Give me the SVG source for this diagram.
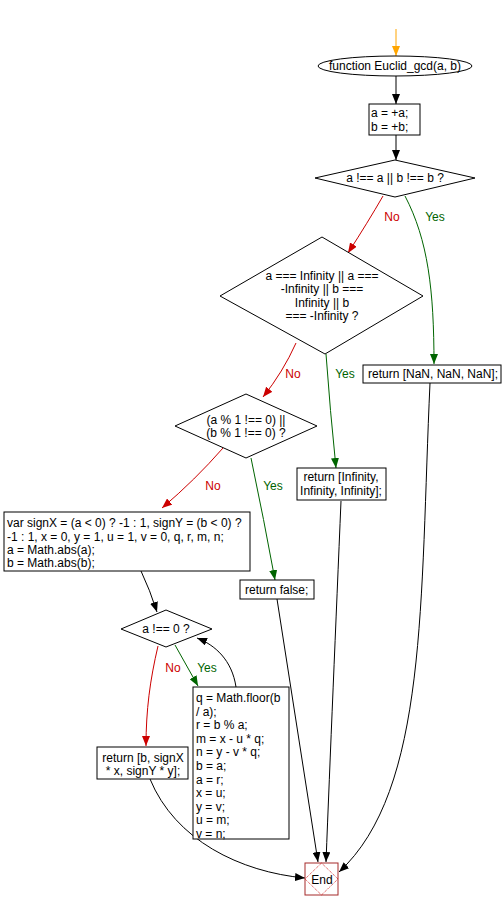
<svg xmlns="http://www.w3.org/2000/svg" width="504" height="910" viewBox="0 0 504 910">
<style>
text{font-family:"Liberation Sans",Arial,sans-serif;font-size:12px;fill:#000}
.c{text-anchor:middle}
.shape{fill:#fff;stroke:#000;stroke-width:1}
.k{fill:none;stroke:#000;stroke-width:1}
.g{fill:none;stroke:#006400;stroke-width:1}
.r{fill:none;stroke:#cc0000;stroke-width:1}
.o{fill:none;stroke:#ffa500;stroke-width:1}
.ln{fill:#cc0000}
.ly{fill:#006400}
</style>
<defs>
<marker id="ak" viewBox="0 0 10 8" refX="10" refY="4" markerWidth="10" markerHeight="8" markerUnits="userSpaceOnUse" orient="auto"><path d="M0,0 L10,4 L0,8 z" fill="#000"/></marker>
<marker id="ag" viewBox="0 0 10 8" refX="10" refY="4" markerWidth="10" markerHeight="8" markerUnits="userSpaceOnUse" orient="auto"><path d="M0,0 L10,4 L0,8 z" fill="#006400"/></marker>
<marker id="ar" viewBox="0 0 10 8" refX="10" refY="4" markerWidth="10" markerHeight="8" markerUnits="userSpaceOnUse" orient="auto"><path d="M0,0 L10,4 L0,8 z" fill="#cc0000"/></marker>
<marker id="ao" viewBox="0 0 10 8" refX="10" refY="4" markerWidth="10" markerHeight="8" markerUnits="userSpaceOnUse" orient="auto"><path d="M0,0 L10,4 L0,8 z" fill="#ffa500"/></marker>
</defs>
<g id="connectors">
<path class="o" d="M396,29 L396,56" marker-end="url(#ao)"/>
<path class="k" d="M396,76 L396,104" marker-end="url(#ak)"/>
<path class="k" d="M396,135 L396,160" marker-end="url(#ak)"/>
<path class="r" d="M383,196 Q368,222 348,253" marker-end="url(#ar)"/>
<path class="g" d="M405,196 C428,240 434,290 434,364" marker-end="url(#ag)"/>
<path class="r" d="M296,343 Q283,372 263,397" marker-end="url(#ar)"/>
<path class="g" d="M326,354 Q330,410 336,468" marker-end="url(#ag)"/>
<path class="r" d="M223,448 Q195,480 162,508" marker-end="url(#ar)"/>
<path class="g" d="M251,458 Q264,520 275,580" marker-end="url(#ag)"/>
<path class="k" d="M141,571 Q150,590 157,612" marker-end="url(#ak)"/>
<path class="r" d="M158,646 C150,680 146,710 146,746" marker-end="url(#ar)"/>
<path class="g" d="M175,645 L198,686" marker-end="url(#ag)"/>
<path class="k" d="M236,687 C232,660 215,645 197,638" marker-end="url(#ak)"/>
<path class="k" d="M341,501 C336,620 330,760 326,862" marker-end="url(#ak)"/>
<path class="k" d="M277,599 L318,862" marker-end="url(#ak)"/>
<path class="k" d="M430,383 C420,600 428,790 339,872" marker-end="url(#ak)"/>
<path class="k" d="M150,779 C175,840 240,872 305,878" marker-end="url(#ak)"/>
<text class="ln" x="392" y="221" text-anchor="middle">No</text>
<text class="ly" x="435" y="221" text-anchor="middle">Yes</text>
<text class="ln" x="293" y="378" text-anchor="middle">No</text>
<text class="ly" x="345" y="378" text-anchor="middle">Yes</text>
<text class="ln" x="213" y="490" text-anchor="middle">No</text>
<text class="ly" x="273" y="490" text-anchor="middle">Yes</text>
<text class="ln" x="173" y="672" text-anchor="middle">No</text>
<text class="ly" x="207" y="672" text-anchor="middle">Yes</text>
</g>
<g id="start">
<ellipse class="shape" cx="395" cy="66" rx="77" ry="10"/>
<text class="c" x="395" y="70">function Euclid_gcd(a, b)</text>
</g>
<g id="init">
<rect class="shape" x="369" y="104" width="51" height="31"/>
<text x="371" y="117">a = +a;</text>
<text x="371" y="131">b = +b;</text>
</g>
<g id="isnan">
<polygon class="shape" points="395,160 475,178 395,197 315,178"/>
<text class="c" x="395" y="182">a !== a || b !== b ?</text>
</g>
<g id="retnan">
<rect class="shape" x="363" y="365" width="138" height="18"/>
<text x="368" y="378">return [NaN, NaN, NaN];</text>
</g>
<g id="isinf">
<polygon class="shape" points="322,237 423,296 325,354 220,296"/>
<text class="c" x="322" y="280">a === Infinity || a ===</text>
<text class="c" x="322" y="293">-Infinity || b ===</text>
<text class="c" x="322" y="307">Infinity || b</text>
<text class="c" x="322" y="320">=== -Infinity ?</text>
</g>
<g id="retinf">
<rect class="shape" x="297" y="468" width="89" height="32"/>
<text class="c" x="341" y="481">return [Infinity,</text>
<text class="c" x="341" y="495">Infinity, Infinity];</text>
</g>
<g id="isint">
<polygon class="shape" points="246,394 317,426 246,458 175,426"/>
<text class="c" x="246" y="424">(a % 1 !== 0) ||</text>
<text class="c" x="246" y="437">(b % 1 !== 0) ?</text>
</g>
<g id="retfalse">
<rect class="shape" x="240" y="580" width="74" height="19"/>
<text x="245" y="594">return false;</text>
</g>
<g id="vars">
<rect class="shape" x="4" y="512" width="246" height="59"/>
<text x="7" y="527">var signX = (a &lt; 0) ? -1 : 1, signY = (b &lt; 0) ?</text>
<text x="7" y="541">-1 : 1, x = 0, y = 1, u = 1, v = 0, q, r, m, n;</text>
<text x="7" y="554">a = Math.abs(a);</text>
<text x="7" y="567">b = Math.abs(b);</text>
</g>
<g id="loop">
<polygon class="shape" points="166,610 212,629 166,647 121,629"/>
<text class="c" x="166" y="633">a !== 0 ?</text>
</g>
<g id="retgcd">
<rect class="shape" x="97" y="747" width="91" height="32"/>
<text class="c" x="143" y="762">return [b, signX</text>
<text class="c" x="143" y="775">* x, signY * y];</text>
</g>
<g id="body">
<rect class="shape" x="193" y="687" width="96" height="152"/>
<text x="196" y="702">q = Math.floor(b</text>
<text x="196" y="716">/ a);</text>
<text x="196" y="729">r = b % a;</text>
<text x="196" y="743">m = x - u * q;</text>
<text x="196" y="756">n = y - v * q;</text>
<text x="196" y="770">b = a;</text>
<text x="196" y="784">a = r;</text>
<text x="196" y="797">x = u;</text>
<text x="196" y="811">y = v;</text>
<text x="196" y="824">u = m;</text>
<text x="196" y="838">v = n;</text>
</g>
<g id="end">
<rect x="305" y="863" width="33" height="32" fill="#fff" stroke="#a52a2a"/>
<polygon points="321.5,863 338,879 321.5,895 305,879" fill="none" stroke="#cc0000" stroke-width="0.8" stroke-dasharray="1,1"/>
<text class="c" x="322" y="884">End</text>
</g>
</svg>
